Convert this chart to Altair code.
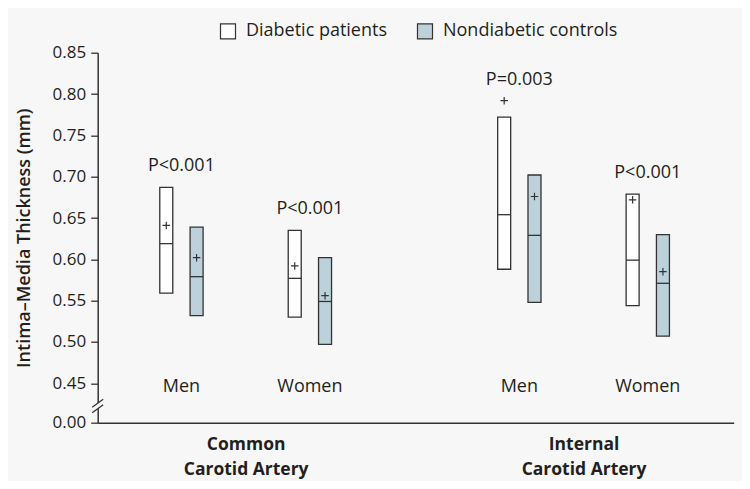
import json
import altair as alt
import pandas as pd

# ---------------- data ----------------
arteries = ["Common Carotid Artery", "Internal Carotid Artery"]
artery_lines = [["Common", "Carotid Artery"], ["Internal", "Carotid Artery"]]
sexes = ["Men", "Women"]
series = ["Diabetic patients", "Nondiabetic controls"]

# order: artery -> sex -> series
box_low = [0.559, 0.532, 0.530, 0.497, 0.588, 0.548, 0.544, 0.507]
box_high = [0.687, 0.639, 0.635, 0.602, 0.772, 0.702, 0.679, 0.630]
box_median = [0.619, 0.579, 0.577, 0.549, 0.654, 0.629, 0.599, 0.571]
box_mean = [0.641, 0.602, 0.592, 0.556, 0.792, 0.676, 0.672, 0.585]

# order: artery -> sex
p_values = ["P<0.001", "P<0.001", "P=0.003", "P<0.001"]

y_ticks = [0.00, 0.45, 0.50, 0.55, 0.60, 0.65, 0.70, 0.75, 0.80, 0.85]

# ---------------- layout / style ----------------
W, H = 636, 370
BREAK_PX = 39.4
GROUP0 = 80.0
SEX_STEP = 130.5
ARTERY_STEP = 343.3
SERIES_HALF = 15.4

BG = "#F7F7F7"
INK = "#333333"
TEXT = "#231F20"
CONTROL_FILL = "#BDD1DB"
DIAB_FILL = "#FFFFFF"
FONT = "Open Sans"

rows = []
n = 0
for ai, a in enumerate(arteries):
    for si, s in enumerate(sexes):
        for ki, k in enumerate(series):
            rows.append(dict(artery=a, sex=s, series=k, ai=ai, si=si, ki=ki,
                             low=box_low[n], high=box_high[n],
                             median=box_median[n], mean=box_mean[n]))
            n += 1
box_df = pd.DataFrame(rows)

grows = []
g = 0
for ai, a in enumerate(arteries):
    for si, s in enumerate(sexes):
        sub = box_df[(box_df.ai == ai) & (box_df.si == si)]
        top = float(max(sub["high"].max(), sub["mean"].max()))
        grows.append(dict(artery=a, sex=s, ai=ai, si=si, p=p_values[g], top=top))
        g += 1
group_df = pd.DataFrame(grows)

x_expr_box = f"{GROUP0} + datum.ai*{ARTERY_STEP} + datum.si*{SEX_STEP} + (datum.ki*2-1)*{SERIES_HALF}"
x_expr_group = f"{GROUP0} + datum.ai*{ARTERY_STEP} + datum.si*{SEX_STEP}"

artery_centers = [GROUP0 + SEX_STEP / 2 + i * ARTERY_STEP for i in range(len(arteries))]
mid = sum(artery_centers) / 2
label_expr = f"datum.value < {mid} ? {json.dumps(artery_lines[0])} : {json.dumps(artery_lines[1])}"

xs = alt.Scale(domain=[0, W], range=[0, W], nice=False, zero=False)
ys = alt.Scale(domain=[0, 0.45, 0.85], range=[H, H - BREAK_PX, 0], nice=False, zero=False)

xaxis = alt.Axis(
    title=None, values=artery_centers, labelExpr=label_expr, ticks=False, grid=False,
    domainColor=INK, domainWidth=1.5, labelFont=FONT, labelFontSize=17.5,
    labelFontWeight="bold", labelColor=TEXT, labelPadding=12.5, labelLineHeight=25.5,
    labelAlign="center", labelBaseline="top",
)
yaxis = alt.Axis(
    title="Intima\u2013Media Thickness (mm)", values=y_ticks, format=".2f", grid=False,
    domainColor=INK, domainWidth=1.5, tickColor=INK, tickWidth=1.3, tickSize=7,
    labelFont=FONT, labelFontSize=17, labelColor=TEXT, labelPadding=5,
    titleFont=FONT, titleFontSize=18, titleFontWeight=600, titleColor=TEXT,
    titleX=-73, titleY=H / 2, titleAngle=270, titleAlign="center", titleBaseline="middle",
)

base = alt.Chart(box_df).transform_calculate(xpos=x_expr_box)

bars = base.mark_bar(size=13, stroke=INK, strokeWidth=1.3).encode(
    x=alt.X("xpos:Q", scale=xs, axis=xaxis),
    y=alt.Y("low:Q", scale=ys, axis=yaxis),
    y2="high:Q",
    fill=alt.Fill(
        "series:N",
        scale=alt.Scale(domain=series, range=[DIAB_FILL, CONTROL_FILL]),
        legend=alt.Legend(
            orient="none", legendX=121.3, legendY=-30.4, direction="horizontal",
            title=None, symbolType="square", symbolSize=225, symbolStrokeColor=INK,
            symbolStrokeWidth=1.2, symbolOpacity=1, labelFont=FONT, labelFontSize=18,
            labelColor=TEXT, labelOffset=9, labelLimit=0, columnPadding=27, padding=0,
        ),
    ),
)

medians = base.mark_point(shape="M-1,0H1", size=169, filled=False, stroke=INK,
                          strokeWidth=1.3, opacity=1).encode(
    x=alt.X("xpos:Q", scale=xs, axis=xaxis),
    y=alt.Y("median:Q", scale=ys, axis=yaxis),
)

means = base.mark_point(shape="M-1,0H1M0,-1V1", size=56, filled=False, stroke=INK,
                        strokeWidth=1.2, opacity=1).encode(
    x=alt.X("xpos:Q", scale=xs, axis=xaxis),
    y=alt.Y("mean:Q", scale=ys, axis=yaxis),
)

gbase = alt.Chart(group_df).transform_calculate(gx=x_expr_group)

ptext = gbase.mark_text(dy=-16, baseline="alphabetic", align="center", font=FONT,
                        fontSize=18, color=TEXT).encode(
    x=alt.X("gx:Q", scale=xs, axis=xaxis),
    y=alt.Y("top:Q", scale=ys, axis=yaxis),
    text="p:N",
)

sextext = gbase.mark_text(baseline="alphabetic", align="center", font=FONT,
                          fontSize=18, color=TEXT).encode(
    x=alt.X("gx:Q", scale=xs, axis=xaxis),
    y=alt.value(339.5),
    text="sex:N",
)

brk_df = pd.DataFrame({"axis_break": [0]})
cover = alt.Chart(brk_df).mark_point(
    shape="M-0.786,0.186L0.786,-0.957L0.786,-0.186L-0.786,0.957Z", size=196,
    filled=True, fill=BG, strokeWidth=0, opacity=1,
).encode(x=alt.value(0), y=alt.value(353.3))
slashes = alt.Chart(brk_df).mark_point(
    shape="M-0.786,0.186L0.786,-0.957M-0.786,0.957L0.786,-0.186", size=196,
    filled=False, stroke=INK, strokeWidth=1.3, opacity=1,
).encode(x=alt.value(0), y=alt.value(353.3))

chart = alt.layer(bars, medians, means, ptext, sextext, cover, slashes).properties(
    width=W, height=H,
    autosize=alt.AutoSizeParams(type="none"),
    padding={"left": 89.7, "top": 44.7, "right": 8, "bottom": 58.3},
    background=BG,
).configure_view(stroke=None)

chart.save("out.html", embed_options={"renderer": "svg", "actions": False})
